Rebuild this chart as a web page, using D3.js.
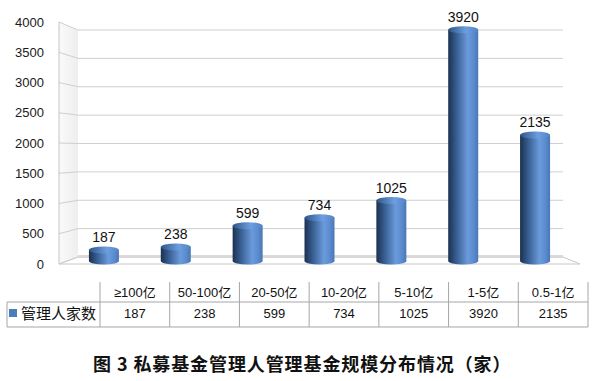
<!DOCTYPE html>
<html><head><meta charset="utf-8">
<script src="https://cdn.jsdelivr.net/npm/d3@7"></script>
<style>
html,body{margin:0;padding:0;background:#fff;}
svg{display:block;font-family:"Liberation Sans","Noto Sans CJK SC",sans-serif;}
</style></head>
<body>
<script>
const categories = ["≥100亿","50-100亿","20-50亿","10-20亿","5-10亿","1-5亿","0.5-1亿"];
const values = [187,238,599,734,1025,3920,2135];
const ticks = [0,500,1000,1500,2000,2500,3000,3500,4000];
const seriesName = "管理人家数";
const title = "图 3 私募基金管理人管理基金规模分布情况（家）";

const W = 592, H = 381;
const svg = d3.select("body").append("svg").attr("width", W).attr("height", H);

// scales: back wall, front (side-wall outer edge) and bars (mid depth)
const yBack = d3.scaleLinear().domain([0,4000]).range([257,30]);
const yFront = d3.scaleLinear().domain([0,4000]).range([264,22]);
const yBar = d3.scaleLinear().domain([0,4000]).range([261,25]);
const xBar = d3.scalePoint().domain(categories).range([68,571]).padding(0.5);
const xTab = d3.scaleBand().domain(categories).range([100,588]);
const wallL = 59, wallR = 78, backR = 563, floorR = 580;

const defs = svg.append("defs");
const sideG = defs.append("linearGradient").attr("id","side").attr("x1","0").attr("x2","1");
sideG.append("stop").attr("offset","0").attr("stop-color","#fafafa");
sideG.append("stop").attr("offset","1").attr("stop-color","#eeeeee");
const cyl = defs.append("linearGradient").attr("id","cyl").attr("x1","0").attr("x2","1");
[[0,"#1b314f"],[0.25,"#355a8c"],[0.65,"#6a9bdc"],[0.85,"#5b8bcc"],[1,"#4877b6"]].forEach(s=>
  cyl.append("stop").attr("offset",s[0]).attr("stop-color",s[1]));
const cap = defs.append("linearGradient").attr("id","cap").attr("x1","0").attr("x2","1");
[[0,"#2f5588"],[0.6,"#6d9edf"],[1,"#5383c4"]].forEach(s=>
  cap.append("stop").attr("offset",s[0]).attr("stop-color",s[1]));

// side wall
svg.append("path")
  .attr("d",`M${wallL},${yFront(4000)}L${wallR},${yBack(4000)}L${wallR},${yBack(0)}L${wallL},${yFront(0)}Z`)
  .attr("fill","url(#side)");
// floor
svg.append("path")
  .attr("d",`M${wallL},${yFront(0)}L${wallR},${yBack(0)}L${backR},${yBack(0)}L${floorR},${yFront(0)}Z`)
  .attr("fill","#fff").attr("stroke","#c8c8c8").attr("stroke-width",1);
svg.append("line").attr("x1",wallR).attr("x2",backR).attr("y1",yBack(0)-1.5).attr("y2",yBack(0)-1.5)
  .attr("stroke","#dcdcdc").attr("stroke-width",1);

// gridlines
const grid = svg.append("g").attr("stroke","#cfcfcf").attr("stroke-width",1).attr("fill","none");
ticks.forEach(t=>{
  grid.append("path").attr("d",`M${wallL},${yFront(t)}L${wallR},${yBack(t)}L${backR},${yBack(t)}`);
});
grid.append("line").attr("x1",wallL).attr("x2",wallL).attr("y1",yFront(4000)).attr("y2",yFront(0)).attr("stroke","#c4c4c4");

// y axis labels
const yAxis = d3.axisLeft(yFront).tickValues(ticks).tickSize(0).tickPadding(0).tickFormat(d3.format("d"));
const ya = svg.append("g").attr("transform","translate(44,0)").call(yAxis);
ya.select(".domain").remove();
ya.selectAll("text").attr("font-size",13).attr("fill","#1a1a1a")
  .attr("font-family",'"Liberation Sans",sans-serif');

// bars as cylinders
const bw = 30, ry = 3.5;
const bars = svg.append("g");
categories.forEach((c,i)=>{
  const cx = xBar(c), x0 = cx-bw/2, x1 = cx+bw/2;
  const yt = yBar(values[i]), yb = yBar(0);
  bars.append("path")
    .attr("d",`M${x0},${yt}L${x0},${yb}A${bw/2},${ry} 0 0 0 ${x1},${yb}L${x1},${yt}Z`)
    .attr("fill","url(#cyl)");
  bars.append("ellipse").attr("cx",cx).attr("cy",yt).attr("rx",bw/2).attr("ry",ry)
    .attr("fill","url(#cap)");
  svg.append("text").attr("x",cx).attr("y",yt-8).attr("text-anchor","middle")
    .attr("font-size",14).attr("fill","#111").text(values[i]);
});

// data table
const tab = svg.append("g").attr("stroke","#a6a6a6").attr("stroke-width",1);
const r1 = 282, r2 = 302, r3 = 327, tL = 7;
xTab.domain().forEach(c=>{
  tab.append("line").attr("x1",xTab(c)).attr("x2",xTab(c)).attr("y1",r1).attr("y2",r3);
});
tab.append("line").attr("x1",588).attr("x2",588).attr("y1",r1).attr("y2",r3);
tab.append("line").attr("x1",tL).attr("x2",tL).attr("y1",r2).attr("y2",r3);
tab.append("line").attr("x1",tL).attr("x2",588).attr("y1",r2).attr("y2",r2);
tab.append("line").attr("x1",tL).attr("x2",588).attr("y1",r3).attr("y2",r3);

categories.forEach((c,i)=>{
  const cx = xTab(c)+xTab.bandwidth()/2;
  svg.append("text").attr("x",cx).attr("y",297).attr("text-anchor","middle")
    .attr("font-size",13).attr("fill","#111").text(c);
  svg.append("text").attr("x",cx).attr("y",318).attr("text-anchor","middle")
    .attr("font-size",13).attr("fill","#111").text(values[i]);
});
svg.append("rect").attr("x",9).attr("y",309).attr("width",8).attr("height",8).attr("fill","#4a7ebb");
svg.append("text").attr("x",21).attr("y",319).attr("font-size",15)
  .attr("font-family",'"Noto Sans CJK SC",sans-serif').attr("fill","#111").text(seriesName);

// title
svg.append("text").attr("x",93).attr("y",371).attr("font-size",18).attr("font-weight","bold")
  .attr("letter-spacing","0.9px")
  .attr("font-family",'"Noto Sans CJK SC",sans-serif').attr("fill","#111").text(title);
</script>
</body></html>
